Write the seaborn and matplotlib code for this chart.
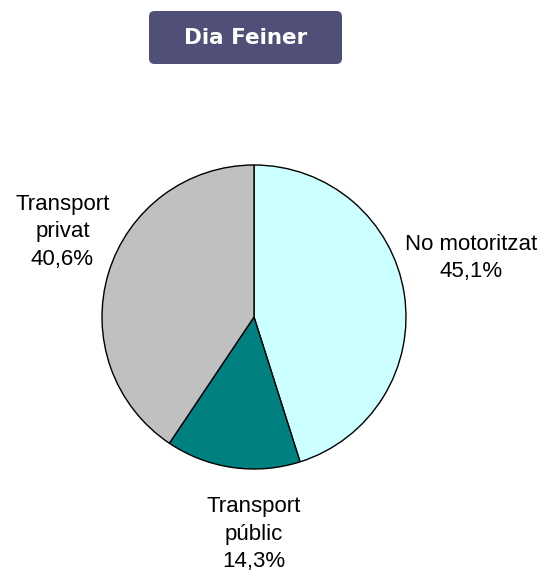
import numpy as np
import matplotlib.pyplot as plt
import seaborn as sns
from matplotlib.patches import FancyBboxPatch

# data
categories = ['No motoritzat', 'Transport públic', 'Transport privat']
label_lines = ['No motoritzat', 'Transport\npúblic', 'Transport\nprivat']
shares = [45.1, 14.3, 40.6]
colors = ['#CCFFFF', '#008080', '#C0C0C0']
title = 'Dia Feiner'

sns.set_theme(style='white')
plt.rcParams['font.family'] = ['Liberation Sans', 'DejaVu Sans']

fig = plt.figure(figsize=(5.43, 5.76), dpi=100)

# pie axes: center ~ (254, 317) px, radius ~152 px
cx, cy, r = 254, 317, 152
W, H = 543, 576
ax = fig.add_axes([(cx - r) / W, 1 - (cy + r) / H, 2 * r / W, 2 * r / H])

wedges, _ = ax.pie(shares, colors=colors, startangle=90, counterclock=False,
                   wedgeprops=dict(edgecolor='black', linewidth=1.0))
ax.set_xlim(-1, 1)
ax.set_ylim(-1, 1)
ax.set_aspect('equal')
ax.axis('off')

# label offsets (in pie radius units), matching Excel placement
label_pos = [(1.43, 0.39), (0.0, -1.43), (-1.26, 0.56)]
for txt, val, (lx, ly) in zip(label_lines, shares, label_pos):
    pct = f'{val:.1f}%'.replace('.', ',')
    ax.text(lx, ly, f'{txt}\n{pct}', ha='center', va='center',
            fontsize=16, linespacing=1.4, color='black', clip_on=False)

# title box
box = FancyBboxPatch((149 / W, 1 - 64 / H), 193 / W, 53 / H,
                     boxstyle='round,pad=0,rounding_size=0.01',
                     transform=fig.transFigure, facecolor='#4F4F77',
                     edgecolor='none')
fig.patches.append(box)
fig.text((149 + 193 / 2) / W, 1 - 38 / H, title, ha='center', va='center',
         color='white', fontsize=15.5, fontweight='bold', family='DejaVu Sans')

fig.savefig('out.png', dpi=100)
